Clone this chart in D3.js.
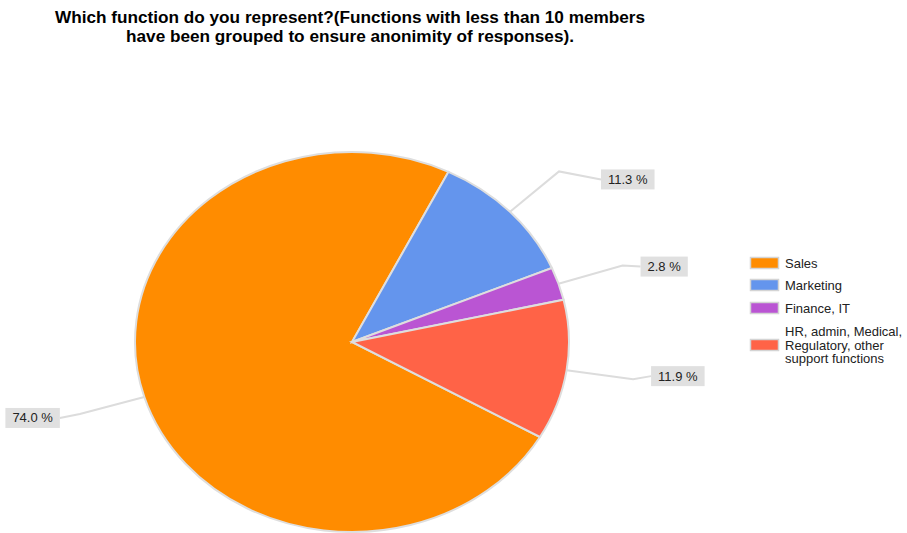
<!DOCTYPE html>
<html>
<head>
<meta charset="utf-8">
<script src="https://cdn.jsdelivr.net/npm/d3@7"></script>
<style>
  html, body { margin: 0; padding: 0; background: #fff; }
  svg { display: block; font-family: "Liberation Sans", Arial, sans-serif; }
</style>
</head>
<body>
<svg id="chart" width="907" height="533"></svg>
<script>
// Survey answers: share of respondents by function (percent)
const categories = ["Sales", "Marketing", "Finance, IT", "HR, admin, Medical, Regulatory, other support functions"];
const legendLines = [["Sales"], ["Marketing"], ["Finance, IT"], ["HR, admin, Medical,", "Regulatory, other", "support functions"]];
const shares = [74.0, 11.3, 2.8, 11.9];
const colors = ["#ff8c00", "#6495ed", "#ba55d3", "#ff6347"];
const titleLines = [
  "Which function do you represent?(Functions with less than 10 members",
  "have been grouped to ensure anonimity of responses)."
];
// Label box nudges relative to the leader-line elbow
const labelOffsets = [[-20, 4], [42, 8], [18, 1], [18, -3]];

const svg = d3.select("#chart");

// Title
svg.append("g").selectAll("text").data(titleLines).join("text")
  .attr("x", 350).attr("y", (d, i) => 23 + i * 19)
  .attr("text-anchor", "middle")
  .attr("font-size", 17.2).attr("font-weight", "bold").attr("fill", "#000")
  .text(d => d);

// Elliptical pie: draw a circle of radius ry and stretch horizontally
const cx = 352, cy = 342, rx = 217, ry = 190;
const sx = rx / ry;
const toRad = Math.PI / 180;

const pie = d3.pie().sort(null).value(d => d)
  .startAngle(120 * toRad).endAngle(480 * toRad);
const arcs = pie(shares);
const arc = d3.arc().innerRadius(0).outerRadius(ry);

const pieG = svg.append("g").attr("transform", `translate(${cx},${cy}) scale(${sx},1)`);
pieG.selectAll("path").data(arcs).join("path")
  .attr("d", arc)
  .attr("fill", (d, i) => colors[i])
  .attr("stroke", "#dedede")
  .attr("stroke-width", 2)
  .attr("vector-effect", "non-scaling-stroke");

// Leader lines and value labels
const elbowScale = 1.31;
const labelG = svg.append("g");
arcs.forEach((a, i) => {
  const mid = (a.startAngle + a.endAngle) / 2;
  const s = Math.sin(mid), c = Math.cos(mid);
  const p0 = [cx + rx * s, cy - ry * c];
  const p1 = [cx + rx * elbowScale * s, cy - ry * elbowScale * c];
  const right = s > 0;
  const [ox, oy] = labelOffsets[i];
  const p2 = [p1[0] + ox, p1[1] + oy];
  labelG.append("polyline")
    .attr("points", [p0, p1, p2].map(p => p.join(",")).join(" "))
    .attr("fill", "none").attr("stroke", "#dcdcdc").attr("stroke-width", 2);
  const txt = d3.format(".1f")(shares[i]) + " %";
  const t = labelG.append("text")
    .attr("font-size", 13).attr("fill", "#222")
    .attr("y", p2[1] + 4.5)
    .text(txt);
  const w = t.node().getComputedTextLength();
  const bw = w + 14, bh = 20;
  const bx = right ? p2[0] : p2[0] - bw;
  labelG.insert("rect", "text")
    .attr("x", bx).attr("y", p2[1] - bh / 2)
    .attr("width", bw).attr("height", bh)
    .attr("fill", "#e0e0e0");
  t.attr("x", bx + 7);
});

// Legend
const legendY = [263, 285, 308, 345];
const lg = svg.append("g");
legendLines.forEach((lines, i) => {
  lg.append("rect")
    .attr("x", 750.5).attr("y", legendY[i] - 5.5)
    .attr("width", 28).attr("height", 11)
    .attr("fill", colors[i]).attr("stroke", "#d4d4d4").attr("stroke-width", 1.5);
  const n = lines.length;
  lines.forEach((ln, j) => {
    lg.append("text")
      .attr("x", 785).attr("y", legendY[i] + 4.5 + (j - (n - 1) / 2) * 13.5)
      .attr("font-size", 13).attr("fill", "#222")
      .text(ln);
  });
});
</script>
</body>
</html>
